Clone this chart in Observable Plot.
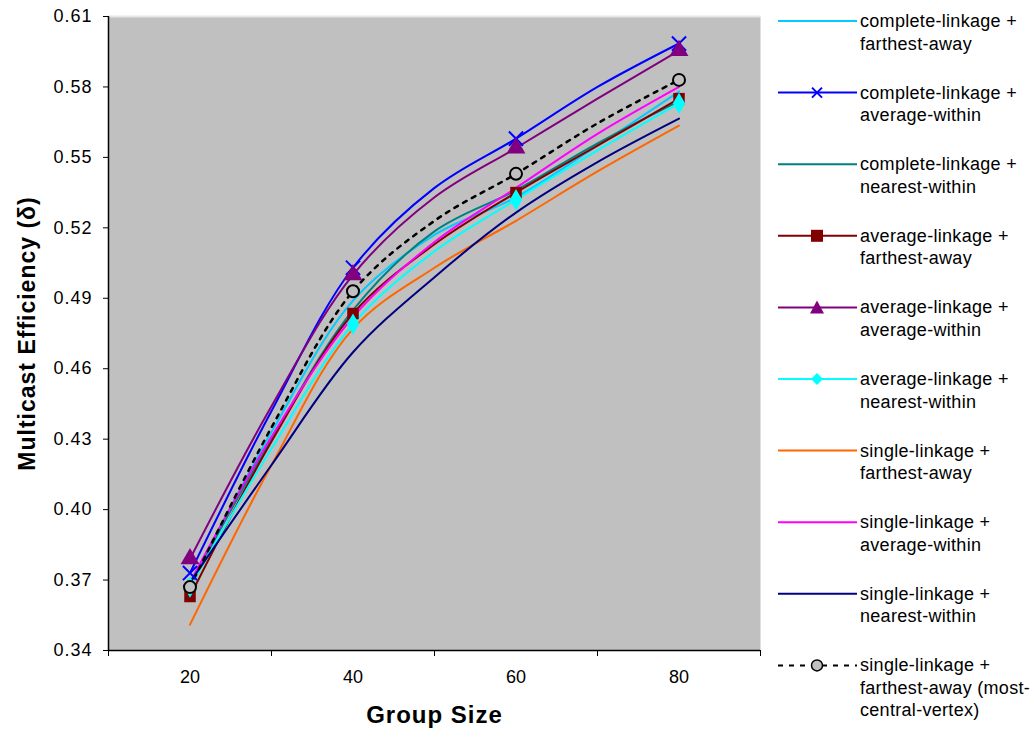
<!DOCTYPE html>
<html>
<head>
<meta charset="utf-8">
<script src="https://cdn.jsdelivr.net/npm/d3@7"></script>
<script src="https://cdn.jsdelivr.net/npm/@observablehq/plot@0.6"></script>
<style>
  html, body { margin: 0; padding: 0; background: #fff; }
  #wrap { position: relative; width: 1034px; height: 742px; font-family: "Liberation Sans", Arial, sans-serif; }
  #chart { position: absolute; left: 0; top: 0; }
  #legend { position: absolute; left: 775px; top: 0; }
  #chart g[aria-label="y-axis tick label"] text { letter-spacing: 1px; }
  #chart g[aria-label="text"] text { letter-spacing: 1px; }
</style>
</head>
<body>
<div id="wrap"><div id="chart"></div><div id="legend"></div></div>
<script>
// ---- data ----
const groupSizes = [20, 30, 40, 50, 60, 70, 80];
const markerSizes = [20, 40, 60, 80];
const xTickMarks = [10, 30, 50, 70, 90];
const xTickLabels = [20, 40, 60, 80];
const yTicks = [0.34, 0.37, 0.40, 0.43, 0.46, 0.49, 0.52, 0.55, 0.58, 0.61];

const completeFarthest = [0.368, 0.433, 0.489, 0.517, 0.533, 0.555, 0.578];
const completeAverage  = [0.373, 0.442, 0.503, 0.537, 0.558, 0.580, 0.5985];
const completeNearest  = [0.368, 0.430, 0.485, 0.5185, 0.536, 0.556, 0.574];
const averageFarthest  = [0.363, 0.429, 0.4835, 0.513, 0.535, 0.555, 0.575];
const averageAverage   = [0.379, 0.444, 0.500, 0.533, 0.554, 0.575, 0.5955];
const averageNearest   = [0.367, 0.426, 0.479, 0.510, 0.532, 0.553, 0.573];
const singleFarthest   = [0.351, 0.419, 0.477, 0.503, 0.523, 0.544, 0.5635];
const singleAverage    = [0.369, 0.431, 0.482, 0.514, 0.537, 0.560, 0.580];
const singleNearest    = [0.369, 0.419, 0.467, 0.499, 0.5265, 0.548, 0.5665];
const mostCentral      = [0.367, 0.435, 0.493, 0.523, 0.543, 0.5645, 0.583];

const seriesNames = [
  ["complete-linkage +", "farthest-away"],
  ["complete-linkage +", "average-within"],
  ["complete-linkage +", "nearest-within"],
  ["average-linkage +", "farthest-away"],
  ["average-linkage +", "average-within"],
  ["average-linkage +", "nearest-within"],
  ["single-linkage +", "farthest-away"],
  ["single-linkage +", "average-within"],
  ["single-linkage +", "nearest-within"],
  ["single-linkage +", "farthest-away (most-", "central-vertex)"]
];
const seriesValues = [completeFarthest, completeAverage, completeNearest, averageFarthest,
  averageAverage, averageNearest, singleFarthest, singleAverage, singleNearest, mostCentral];
const seriesColors = ["#00ccff", "#0000ff", "#008080", "#800000", "#800080",
  "#00ffff", "#ff6600", "#ff00ff", "#000080", "#000000"];
const seriesMarkers = [null, "times", null, "square", "triangle", "diamond", null, null, null, "circle"];

// ---- build tables ----
const series = seriesValues.map((vals, i) => ({
  key: seriesNames[i].join(" "),
  color: seriesColors[i],
  marker: seriesMarkers[i],
  dashed: i === 9,
  rows: groupSizes.map((g, j) => ({size: g, value: vals[j]}))
}));

const markerR = {times: 6.5, square: 6.5, triangle: 7, diamond: 6.5, circle: 6};

const marks = [
  Plot.frame({fill: "#c0c0c0", stroke: null}),
  Plot.ruleY([0.61], {stroke: "#e6e6e6", strokeWidth: 2})
];

series.forEach(s => {
  marks.push(Plot.line(s.rows, {
    x: "size", y: "value", stroke: s.color, strokeWidth: s.dashed ? 2.5 : 2,
    strokeDasharray: s.dashed ? "4,6" : null, curve: "catmull-rom"
  }));
});
series.forEach(s => {
  if (!s.marker) return;
  const pts = s.rows.filter(r => markerSizes.includes(r.size));
  const isStroke = s.marker === "times" || s.marker === "circle";
  marks.push(Plot.dot(pts, {
    x: "size", y: "value",
    symbol: s.marker, r: markerR[s.marker],
    fill: s.marker === "circle" ? "#c0c0c0" : (isStroke ? "none" : s.color),
    stroke: s.marker === "circle" ? "#000" : (isStroke ? s.color : "none"),
    strokeWidth: 2
  }));
});

marks.push(
  Plot.ruleX([10], {stroke: "#000", strokeWidth: 1.5}),
  Plot.ruleY([0.34], {stroke: "#000", strokeWidth: 1.5}),
  Plot.axisY({ticks: yTicks, tickFormat: d3.format(".2f"), tickSize: 5, tickPadding: 11,
    fontSize: 18, label: null, stroke: "#000"}),
  Plot.axisX({ticks: xTickMarks, tickFormat: () => "", tickSize: 6, label: null, stroke: "#000"}),
  Plot.axisX({ticks: xTickLabels, tickSize: 0, tickPadding: 20, fontSize: 18, label: null}),
  Plot.text(["Multicast Efficiency (δ)"], {frameAnchor: "left", textAnchor: "middle", dx: -81, rotate: -90,
    fontSize: 23, fontWeight: "bold", fill: "#000"}),
  Plot.text(["Group Size"], {frameAnchor: "bottom", dy: 72, fontSize: 24, fontWeight: "bold", fill: "#000"})
);

const chart = Plot.plot({
  width: 775, height: 742,
  marginLeft: 108, marginRight: 15, marginTop: 16, marginBottom: 92,
  x: {domain: [10, 90]},
  y: {domain: [0.34, 0.61]},
  style: {background: "transparent", fontFamily: "'Liberation Sans', Arial, sans-serif", color: "#000", overflow: "visible"},
  marks
});
document.getElementById("chart").appendChild(chart);

// ---- legend ----
const lg = d3.select("#legend").append("svg").attr("width", 259).attr("height", 742)
  .style("font-family", "'Liberation Sans', Arial, sans-serif");
series.forEach((s, i) => {
  const y0 = 21 + i * 71.6;
  const g = lg.append("g").attr("transform", `translate(0,${y0})`);
  g.append("line").attr("x1", 3).attr("x2", 82).attr("y1", 0).attr("y2", 0)
    .attr("stroke", s.color).attr("stroke-width", 2)
    .attr("stroke-dasharray", s.dashed ? "5,6" : null);
  const mx = 42;
  if (s.marker === "times") {
    g.append("path").attr("d", `M${mx-5},-5L${mx+5},5M${mx-5},5L${mx+5},-5`)
      .attr("stroke", s.color).attr("stroke-width", 2);
  } else if (s.marker === "square") {
    g.append("rect").attr("x", mx-6).attr("y", -6).attr("width", 12).attr("height", 12).attr("fill", s.color);
  } else if (s.marker === "triangle") {
    g.append("path").attr("d", `M${mx},-7L${mx+7},6L${mx-7},6Z`).attr("fill", s.color);
  } else if (s.marker === "diamond") {
    g.append("path").attr("d", `M${mx},-6L${mx+6},0L${mx},6L${mx-6},0Z`).attr("fill", s.color);
  } else if (s.marker === "circle") {
    g.append("circle").attr("cx", mx).attr("cy", 0).attr("r", 5.5).attr("fill", "#c0c0c0")
      .attr("stroke", "#000").attr("stroke-width", 1.5);
  }
  seriesNames[i].forEach((t, k) => {
    g.append("text").attr("x", 85).attr("y", k * 22.5 + 6).attr("font-size", 18)
      .attr("letter-spacing", 0.3).attr("fill", "#000").text(t);
  });
});
</script>
</body>
</html>
